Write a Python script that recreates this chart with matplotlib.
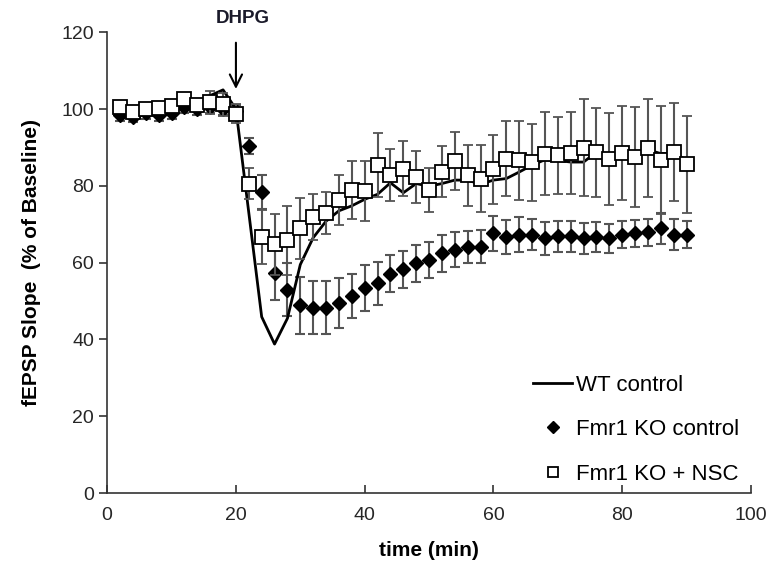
"""
fEPSP slope time course after DHPG application:
WT control vs Fmr1 KO control vs Fmr1 KO + NSC.
"""

import numpy as np
import matplotlib
matplotlib.use("Agg")
import matplotlib.pyplot as plt

plt.rcParams['font.family'] = ['Liberation Sans', 'DejaVu Sans']

# time points (min)
time = list(range(2, 91, 2))

# WT control (line only)
wt_control = [99, 98, 98.5, 99, 99.5, 100.5, 102, 103.5, 105, 100,
              73, 45.9, 38.8, 45.5, 59.5, 66.5, 70.8, 73.5, 74.8, 76.5,
              77.8, 80.8, 78.2, 80.6, 79.9, 80.6, 81.5, 81.5, 80.4, 81.5,
              81.9, 83.6, 85.4, 86.8, 86.6, 86.2, 86.2, 88.8, 88.0, 88.9,
              88.4, 89.4, 88.4, 88.4, 86.8]

# Fmr1 KO control (filled diamonds)
ko_control = [98.5, 98, 99, 98.5, 99, 100.5, 100, 100.5, 100, 99.5,
              90.4, 78.4, 57.4, 53, 48.9, 48.3, 48.3, 49.6, 51.3, 53.3,
              54.6, 57.1, 58.3, 59.8, 60.7, 62.4, 63.4, 64.1, 64.2, 67.6,
              66.7, 67.3, 67.3, 66.3, 66.9, 66.9, 66.3, 66.7, 66.3, 67.3,
              67.6, 67.9, 68.9, 67.3, 67.3]
ko_control_err = [1.5, 1.5, 1.5, 1.5, 1.5, 1.5, 1.5, 1.5, 1.5, 1.5,
                  2, 4.5, 7, 7, 7.4, 7, 7, 6.5, 5.8, 6,
                  5.5, 4.8, 4.8, 4.8, 4.8, 4.8, 4.5, 4.2, 4.2, 4.5,
                  4.5, 4.5, 4, 4.2, 4, 4, 4, 3.8, 3.8, 3.5,
                  3.5, 3.5, 4, 4, 3.5]

# Fmr1 KO + NSC (open squares)
ko_nsc = [100.5, 99.3, 99.9, 100.4, 100.7, 102.5, 101, 101.8, 101.3, 98.8,
          80.6, 66.7, 64.8, 65.8, 68.9, 71.9, 73, 76.3, 78.9, 78.7,
          85.4, 82.8, 84.5, 82.3, 78.9, 83.7, 86.4, 82.7, 81.9, 84.3,
          87.1, 86.7, 86.1, 88.4, 88, 88.6, 89.9, 88.7, 87.1, 88.5,
          87.5, 89.9, 86.8, 88.8, 85.6]
ko_nsc_err = [1.5, 1.5, 1.5, 1.5, 1.5, 1.5, 1.5, 3, 3, 2.5,
              4, 7, 8, 9, 8, 6, 5.5, 6.5, 7.5, 7.9,
              8.3, 6.7, 7.2, 6.7, 5.8, 6.6, 7.5, 8, 8.7, 9,
              9.7, 10.3, 10, 10.8, 10, 10.7, 12.6, 11.7, 12, 12.3,
              13, 12.8, 14, 12.7, 12.7]

x_ticks = [0, 20, 40, 60, 80, 100]
y_ticks = [0, 20, 40, 60, 80, 100, 120]

fig = plt.figure(figsize=(7.71, 5.76), dpi=100)
ax = fig.add_axes([0.139, 0.144, 0.835, 0.8])

err_kw = dict(ecolor='#555555', elinewidth=1.5, capsize=3.5, capthick=1.5)

ko_eb = ax.errorbar(time, ko_control, yerr=ko_control_err, fmt='D',
                    color='black', markersize=7.5, zorder=2, **err_kw)
wt_line, = ax.plot(time, wt_control, color='black', linewidth=2, zorder=3)
nsc_eb = ax.errorbar(time, ko_nsc, yerr=ko_nsc_err, fmt='s',
                     markerfacecolor='white', markeredgecolor='black',
                     markeredgewidth=1.3, markersize=9.5, zorder=4, **err_kw)

# DHPG application marker
ax.annotate('', xy=(20, 104.5), xytext=(20, 118),
            arrowprops=dict(arrowstyle='->', color='black', lw=1.5,
                            mutation_scale=22),
            annotation_clip=False)
ax.text(21.0, 123.5, 'DHPG', ha='center', va='center', fontsize=13.5,
        fontweight='bold', color='#1a1a2a', clip_on=False)

ax.set_xlim(0, 100)
ax.set_ylim(0, 120)
ax.set_xticks(x_ticks)
ax.set_yticks(y_ticks)
ax.spines['top'].set_visible(False)
ax.spines['right'].set_visible(False)
for s in ['left', 'bottom']:
    ax.spines[s].set_linewidth(1.2)
    ax.spines[s].set_color('#333333')
ax.tick_params(axis='y', direction='out', length=6, width=1.2,
               labelsize=14, colors='#333333', labelcolor='#262626')
ax.tick_params(axis='x', direction='in', length=6, width=1.2,
               labelsize=14, colors='#333333', labelcolor='#262626', pad=10)

ax.set_xlabel('time (min)', fontsize=15, fontweight='bold', labelpad=12)
ax.set_ylabel('fEPSP Slope  (% of Baseline)', fontsize=15,
              fontweight='bold', labelpad=15)

# legend shows the markers only, no error bars
ax.legend([wt_line, ko_eb[0], nsc_eb[0]],
          ['WT control', 'Fmr1 KO control', 'Fmr1 KO + NSC'],
          loc='lower right', bbox_to_anchor=(1.012, -0.025),
          frameon=False, fontsize=16, handlelength=1.75,
          handletextpad=0.15, labelspacing=1.05, markerscale=0.8)

fig.savefig('out.png', dpi=100)
